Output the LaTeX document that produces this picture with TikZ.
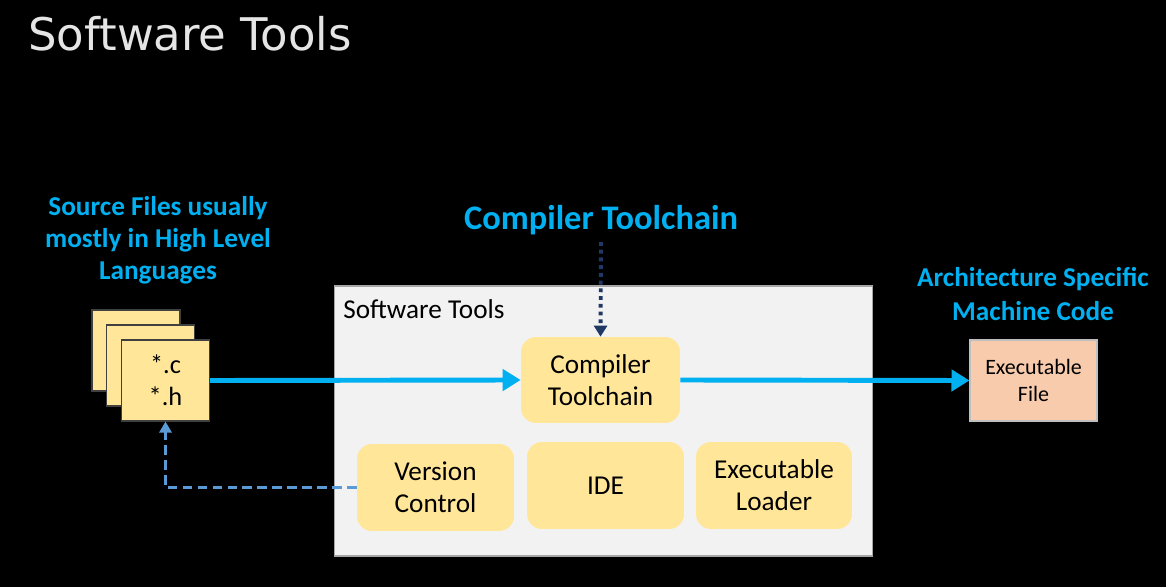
\documentclass[tikz,border=0pt]{standalone}
\usepackage{fontspec}
\setmainfont{Carlito}
\newfontfamily\titlefont{DejaVu Sans}
\usetikzlibrary{arrows.meta}

\definecolor{skyblue}{HTML}{00B0F0}
\definecolor{paleyellow}{HTML}{FFE699}
\definecolor{salmon}{HTML}{F8CBAD}
\definecolor{navy}{HTML}{1F3864}
\definecolor{steel}{HTML}{5B9BD5}
\definecolor{panel}{HTML}{F2F2F2}

\tikzset{
  tool/.style={fill=paleyellow, rounded corners=0.3cm, align=center,
    font=\fontsize{15.5}{18.3}\selectfont, inner sep=0pt},
  filecard/.style={fill=paleyellow, draw=black!75, line width=0.6pt,
    minimum width=1.76cm, minimum height=1.62cm, inner sep=0pt, align=center,
    font=\fontsize{15}{18}\selectfont},
  bluelabel/.style={text=skyblue, align=center,
    font=\bfseries\fontsize{15.5}{18.3}\selectfont},
  flow/.style={draw=skyblue, line width=2.8pt,
    -{Triangle[length=0.36cm,width=0.42cm]}},
}

\begin{document}
\begin{tikzpicture}[x=0.02cm, y=-0.02cm]
    % 背景
    \fill[black] (0,0) rectangle (1166,587);
    \useasboundingbox (0,0) rectangle (1166,587);

    % 標題
    \node[anchor=base west, inner sep=0pt, text=black!10,
      font=\titlefont\fontsize{25.6}{29}\selectfont] (title) at (28,51) {Software Tools};

    % 軟體工具框
    \node[fill=panel, draw=black!35, line width=0.6pt, minimum width=10.78cm,
      minimum height=5.4cm, inner sep=0pt] (swbox) at (603.5,421) {};
    \node[anchor=west, inner sep=0pt, font=\fontsize{15.5}{18.5}\selectfont]
      (swlabel) at (343,309) {Software Tools};

    % 工具
    \node[tool, minimum width=3.18cm, minimum height=1.72cm] (comp) at (600.5,380) {Compiler\\Toolchain};
    \node[tool, minimum width=3.14cm, minimum height=1.74cm] (vc) at (435.5,487.5) {Version\\Control};
    \node[tool, minimum width=3.14cm, minimum height=1.74cm] (ide) at (605.5,485.5) {IDE};
    \node[tool, minimum width=3.12cm, minimum height=1.74cm] (loader) at (774,485.5) {Executable\\Loader};

    % 原始檔
    \node[filecard] (f1) at (136,350.5) {};
    \node[filecard] (f2) at (150.5,365.5) {};
    \node[filecard] (f3) at (165.5,380.5) {*.c\\*.h};

    % 執行檔
    \node[fill=salmon, draw=black!25, line width=0.6pt, minimum width=2.54cm,
      minimum height=1.62cm, inner sep=0pt, align=center,
      font=\fontsize{12.5}{15}\selectfont] (exe) at (1033.5,380.5) {Executable\\File};

    % 藍色說明
    \node[bluelabel] (srclabel) at (158,240) {Source Files usually\\mostly in High Level\\Languages};
    \node[bluelabel, font=\bfseries\fontsize{19.6}{23}\selectfont] (ctlabel) at (601,220) {Compiler Toolchain};
    \node[bluelabel, font=\bfseries\fontsize{15.5}{19.3}\selectfont] (archlabel) at (1033,294) {Architecture Specific\\Machine Code};
    \coordinate (ctfoot) at (601,242);

    % 箭頭
    \draw[flow] (f3.east) -- (comp.west);
    \draw[flow] (comp.east) -- (exe.west);
    \draw[navy, line width=2.2pt, dash pattern=on 2.2pt off 2.2pt,
      -{Triangle[length=0.22cm,width=0.26cm]}] (ctfoot) -- (comp.north);
    \draw[steel, line width=1.8pt, dash pattern=on 5.5pt off 3pt,
      -{Triangle[length=0.22cm,width=0.24cm]}] (vc.west) -| (f3.south);
\end{tikzpicture}
\end{document}
